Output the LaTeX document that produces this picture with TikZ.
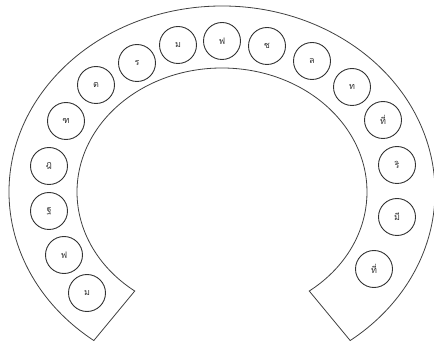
\documentclass[tikz,border=0pt]{standalone}
\usepackage{fontspec}
\newfontfamily\thaifont[Script=Thai]{Loma}

\begin{document}
\begin{tikzpicture}[
        x=1pt, y=1pt,
        shoe/.style={draw=black!75, line width=0.8pt},
        letternode/.style={circle, draw=black!80, line width=0.9pt, minimum size=37pt, inner sep=0pt,
            font=\thaifont\fontsize{9}{10}\selectfont, text=black!80}
    ]

        \useasboundingbox (0,0) rectangle (434,343);

        % horseshoe band
        \draw [shoe] ({222+213*cos(233)},{151+186*sin(233)})
            arc [start angle=233, end angle=-53, x radius=213, y radius=186]
            -- ({222+145*cos(-53)},{151+124*sin(-53)})
            arc [start angle=-53, end angle=233, x radius=145, y radius=124]
            -- cycle;

        % letters, from the left end round to the right end
        \node [letternode] (L1) at (87,50) {ม};
        \node [letternode] (L2) at (64,88) {ฟ};
        \node [letternode] (L3) at (49,132) {ฐ};
        \node [letternode] (L4) at (49,177) {ฎ};
        \node [letternode] (L5) at (66,222) {ฑ};
        \node [letternode] (L6) at (96,258) {ต};
        \node [letternode] (L7) at (137,280) {ร};
        \node [letternode] (L8) at (178,298) {ม};
        \node [letternode] (L9) at (222,302) {ฟ};
        \node [letternode] (L10) at (267,297) {ช};
        \node [letternode] (L11) at (312,282) {ล};
        \node [letternode] (L12) at (352,256) {ท};
        \node [letternode] (L13) at (383,223) {ที่};
        \node [letternode] (L14) at (397,178) {ริ};
        \node [letternode] (L15) at (397,126) {มี};
        \node [letternode] (L16) at (374,74) {ที่};

    \end{tikzpicture}
\end{document}
